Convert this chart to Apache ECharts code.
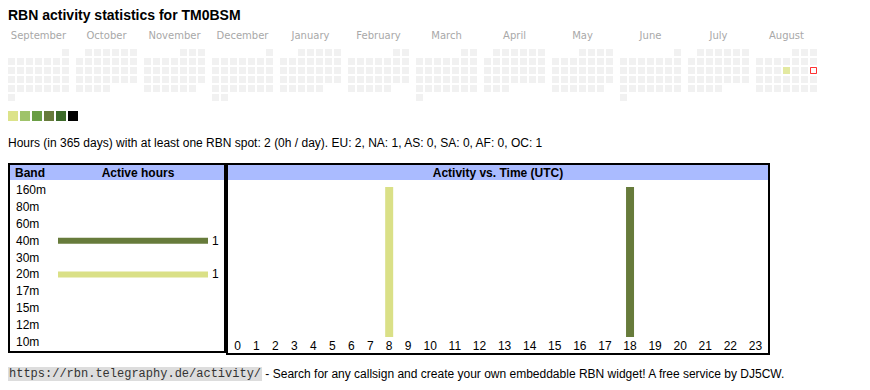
<!DOCTYPE html>
<html><head><meta charset="utf-8">
<script src="https://cdn.jsdelivr.net/npm/echarts@6/dist/echarts.min.js"></script>
<style>html,body{margin:0;padding:0;background:#fff}#c{width:870px;height:390px}</style>
</head><body><div id="c"></div>
<script>
// ---------------- data ----------------
const chartTitle = 'RBN activity statistics for TM0BSM';
const monthNames = ['September','October','November','December','January','February','March','April','May','June','July','August'];
const monthKeys = ['2024-09','2024-10','2024-11','2024-12','2025-01','2025-02','2025-03','2025-04','2025-05','2025-06','2025-07','2025-08'];
const activeDays = ['2025-08-14'];
const activeDayLevels = [1];
const todayDate = '2025-08-17';
const levelColors = ['#dce38a','#9fc36a','#6a9e45','#677b3b','#3c6a29','#000000'];
const levelValues = [1,2,3,4,5,6];
const summaryText = 'Hours (in 365 days) with at least one RBN spot: 2 (0h / day). EU: 2, NA: 1, AS: 0, SA: 0, AF: 0, OC: 1';
const bands = ['160m','80m','60m','40m','30m','20m','17m','15m','12m','10m'];
const bandHours = [0,0,0,1,0,1,0,0,0,0];
const bandColors = ['#7f6a9e','#8a5a8a','#5a7a9a','#677b3b','#4a8a9a','#dae087','#9a8a4a','#9a6a4a','#6a6a6a','#4a4a8a'];
const hourLabels = ['0','1','2','3','4','5','6','7','8','9','10','11','12','13','14','15','16','17','18','19','20','21','22','23'];
const hours20m = [0,0,0,0,0,0,0,0,1,0,0,0,0,0,0,0,0,0,0,0,0,0,0,0];
const hours40m = [0,0,0,0,0,0,0,0,0,0,0,0,0,0,0,0,0,0,1,0,0,0,0,0];
const hourSeriesList = [{band:'20m', values:hours20m},{band:'40m', values:hours40m}];
const footerUrl = 'https://rbn.telegraphy.de/activity/';
const footerText = ' - Search for any callsign and create your own embeddable RBN widget! A free service by DJ5CW.';
const headBand = 'Band', headActive = 'Active hours', headTime = 'Activity vs. Time (UTC)';

// ---------------- helpers ----------------
const SANS = 'Arial, "Liberation Sans", sans-serif';
const MONO = '12px "Liberation Mono", monospace';
const measureCtx = document.createElement('canvas').getContext('2d');
function textW(t, font){ measureCtx.font = font; return measureCtx.measureText(t).width; }

function monthCells(key){
  const [y,m] = key.split('-').map(Number);
  const first = new Date(Date.UTC(y, m-1, 1));
  const dim = new Date(Date.UTC(y, m, 0)).getUTCDate();
  const off = (first.getUTCDay()+6)%7;
  const cells = [];
  for (let d=1; d<=dim; d++){
    const idx = off + d - 1;
    const ds = key + '-' + String(d).padStart(2,'0');
    const ai = activeDays.indexOf(ds);
    cells.push({date: ds, value:[idx%7, Math.floor(idx/7), ai>=0 ? activeDayLevels[ai] : 0]});
  }
  return cells;
}

// hour table columns (auto table layout): width proportional to label width + cell padding
const hourFont = '12px ' + SANS;
const hourTableWidth = 540;
const hourCellPad = 14;
const hourContent = hourLabels.map(l => textW(l, hourFont) + hourCellPad);
const hourScale = hourTableWidth / hourContent.reduce((a,b)=>a+b,0);
const hourCenters = [];
{ let acc = 0; hourContent.forEach(w => { const cw = w * hourScale; hourCenters.push(acc + cw/2); acc += cw; }); }
const hourTotals = hourLabels.map((_,h) => hourSeriesList.reduce((s,x)=>s+x.values[h],0));

// ---------------- option ----------------
const grids = [], xAxes = [], yAxes = [], series = [];
monthKeys.forEach((key, i) => {
  grids.push({left: 7 + 68*i, top: 48, width: 63, height: 54, show:false});
  xAxes.push({gridIndex:i, type:'category', data:[0,1,2,3,4,5,6], position:'top',
    name: monthNames[i], nameLocation:'middle', nameGap: 13,
    nameTextStyle:{color:'#a8a8a8', fontSize:10, fontFamily:'"DejaVu Sans", Verdana, sans-serif', verticalAlign:'middle'},
    axisLine:{show:false}, axisTick:{show:false}, axisLabel:{show:false}, splitLine:{show:false}});
  yAxes.push({gridIndex:i, type:'category', data:[0,1,2,3,4,5], inverse:true, show:false});
  series.push({type:'scatter', xAxisIndex:i, yAxisIndex:i, symbol:'rect', symbolSize:7,
    data: monthCells(key), silent:true});
});
// today marker
{
  const mi = monthKeys.indexOf(todayDate.slice(0,7));
  const cell = monthCells(monthKeys[mi]).find(c => c.date === todayDate);
  series.push({type:'scatter', xAxisIndex:mi, yAxisIndex:mi, symbol:'rect', symbolSize:6, z:5,
    itemStyle:{color:'#ffffff', borderColor:'#ff0000', borderWidth:1}, data:[cell.value], silent:true});
}
// band chart (grid 12)
grids.push({left:58, top:181.5, width:150, height:169, show:false});
xAxes.push({gridIndex:12, type:'value', min:0, max:Math.max(...bandHours), show:false});
yAxes.push({gridIndex:12, type:'category', data:bands, inverse:true,
  axisLine:{show:false}, axisTick:{show:false}, splitLine:{show:false},
  axisLabel:{align:'left', margin:42, color:'#000', fontSize:12, fontFamily:SANS}});
series.push({type:'bar', xAxisIndex:12, yAxisIndex:12, barWidth:6, silent:true,
  data: bandHours.map((v,i)=>({value:v, itemStyle:{color:bandColors[i]}})),
  label:{show:true, position:'right', distance:4, color:'#000', fontSize:12, fontFamily:SANS,
    formatter: p => p.value > 0 ? String(p.value) : ''}});
// hour chart (grid 13)
grids.push({left:228, top:187, width:hourTableWidth, height:150, show:false});
xAxes.push({gridIndex:13, type:'value', min:0, max:hourTableWidth,
  axisLine:{show:false}, axisTick:{show:false}, splitLine:{show:false},
  axisLabel:{show:true, margin:3, color:'#000', fontSize:12, fontFamily:SANS,
    customValues: hourCenters, showMinLabel:true, showMaxLabel:true,
    formatter: v => { const k = hourCenters.findIndex(c => Math.abs(c - v) < 0.01); return k >= 0 ? hourLabels[k] : ''; }}});
yAxes.push({gridIndex:13, type:'value', min:0, max:Math.max(...hourTotals), show:false});
hourSeriesList.forEach(s => {
  series.push({type:'bar', xAxisIndex:13, yAxisIndex:13, stack:'hours', barWidth:8, silent:true,
    itemStyle:{color: bandColors[bands.indexOf(s.band)]},
    data: s.values.map((v,h)=>[hourCenters[h], v])});
});

const calSeriesIdx = monthKeys.map((_,i)=>i);
const option = {
  animation:false,
  backgroundColor:'#ffffff',
  grid: grids, xAxis: xAxes, yAxis: yAxes, series: series,
  visualMap: {type:'piecewise', seriesIndex: calSeriesIdx, dimension:2, orient:'horizontal',
    left:8, top:111, padding:0, itemWidth:10, itemHeight:10, itemGap:2, itemSymbol:'rect',
    showLabel:false, selectedMode:false, hoverLink:false,
    pieces: levelValues.map((v,i)=>({value:v, color:levelColors[i]})),
    outOfRange:{color:'#eeeeee'}},
  graphic: [
    {type:'text', x:8, y:15, style:{text:chartTitle, font:'bold 14px '+SANS, fill:'#000', textVerticalAlign:'middle'}},
    {type:'text', x:8, y:143, style:{text:summaryText, font:'12px '+SANS, fill:'#000', textVerticalAlign:'middle'}},
    {type:'rect', shape:{x:10, y:165, width:214, height:15}, style:{fill:'#aabbff'}},
    {type:'rect', shape:{x:228, y:165, width:540, height:15}, style:{fill:'#aabbff'}},
    {type:'rect', shape:{x:9, y:164, width:216, height:188}, style:{fill:'none', stroke:'#000', lineWidth:2}},
    {type:'rect', shape:{x:227, y:164, width:542, height:190}, style:{fill:'none', stroke:'#000', lineWidth:2}},
    {type:'text', x:15, y:173, style:{text:headBand, font:'bold 12px '+SANS, fill:'#000', textVerticalAlign:'middle'}},
    {type:'text', x:138, y:173, style:{text:headActive, font:'bold 12px '+SANS, fill:'#000', textAlign:'center', textVerticalAlign:'middle'}},
    {type:'text', x:498, y:173, style:{text:headTime, font:'bold 12px '+SANS, fill:'#000', textAlign:'center', textVerticalAlign:'middle'}},
    {type:'text', x:8, y:374, style:{text:footerUrl, font:MONO, fill:'#333', backgroundColor:'#dddddd', padding:[1,1,1,1], textVerticalAlign:'middle'}},
    {type:'text', x:8 + 2 + textW(footerUrl, MONO), y:374, style:{text:footerText, font:'12px '+SANS, fill:'#000', textVerticalAlign:'middle'}}
  ]
};
const chart = echarts.init(document.getElementById('c'), null, {renderer:'svg'});
chart.setOption(option);
</script></body></html>
